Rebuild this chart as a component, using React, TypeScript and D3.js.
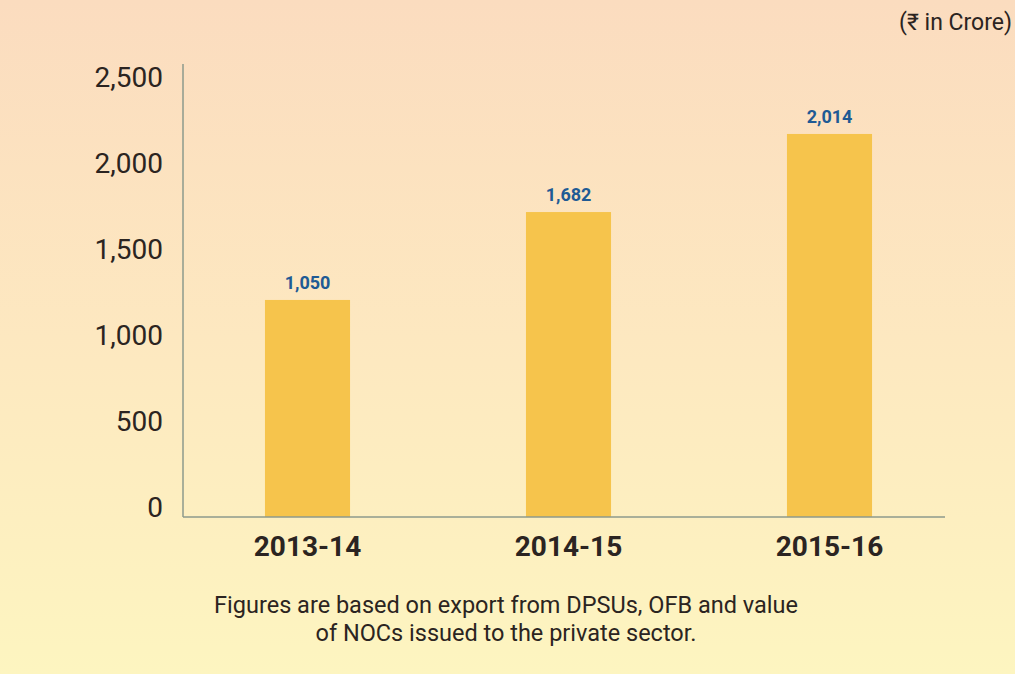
import { useEffect, useRef } from 'react';
import * as d3 from 'd3';

// Chart data
const categories = ['2013-14', '2014-15', '2015-16'];
// printed value labels above the bars
const valueLabels = ['1,050', '1,682', '2,014'];
// bar heights as drawn, read against the axis in the picture
const barHeights = [1262, 1773, 2227];
const yTicks = [0, 500, 1000, 1500, 2000, 2500];
const unitLabel = '(₹ in Crore)';
const footnote = [
  'Figures are based on export from DPSUs, OFB and value',
  'of NOCs issued to the private sector.',
];

export default function App() {
  const svgRef = useRef<SVGSVGElement>(null);

  useEffect(() => {
    if (!svgRef.current) return;
    const width = 1015;
    const height = 674;
    const font = 'Roboto, "Noto Sans", "DejaVu Sans", sans-serif';

    const svg = d3.select(svgRef.current);
    svg.selectAll('*').remove();
    svg.attr('width', width).attr('height', height);

    // background gradient
    const defs = svg.append('defs');
    const grad = defs
      .append('linearGradient')
      .attr('id', 'bg')
      .attr('x1', 0)
      .attr('y1', 0)
      .attr('x2', 0)
      .attr('y2', 1);
    grad.append('stop').attr('offset', '0%').attr('stop-color', '#fbdcbf');
    grad.append('stop').attr('offset', '50%').attr('stop-color', '#fde8c0');
    grad.append('stop').attr('offset', '100%').attr('stop-color', '#fdf5c0');
    svg.append('rect').attr('width', width).attr('height', height).attr('fill', 'url(#bg)');

    const x = d3
      .scaleBand()
      .domain(categories)
      .range([177, 960])
      .paddingInner(0.674)
      .paddingOuter(0.337);

    const y = d3.scaleLinear().domain([0, 2500]).range([517, 87]);

    const axisLeft = 183;
    const axisRight = 945;

    // Bars
    svg
      .append('g')
      .selectAll('rect')
      .data(categories)
      .enter()
      .append('rect')
      .attr('x', (d) => x(d) || 0)
      .attr('y', (_, i) => y(barHeights[i]))
      .attr('width', x.bandwidth())
      .attr('height', (_, i) => y(0) - y(barHeights[i]))
      .attr('fill', '#f6c44c');

    // value labels
    svg
      .append('g')
      .selectAll('text')
      .data(categories)
      .enter()
      .append('text')
      .attr('x', (d) => (x(d) || 0) + x.bandwidth() / 2)
      .attr('y', (_, i) => y(barHeights[i]) - 11)
      .attr('text-anchor', 'middle')
      .attr('font-family', font)
      .attr('font-weight', 'bold')
      .attr('font-size', '18px')
      .attr('fill', '#205a94')
      .text((_, i) => valueLabels[i]);

    // axis lines
    svg
      .append('line')
      .attr('x1', axisLeft)
      .attr('x2', axisLeft)
      .attr('y1', 64)
      .attr('y2', y(0))
      .attr('stroke', '#8c9a8c')
      .attr('stroke-width', 1.5);
    svg
      .append('line')
      .attr('x1', axisLeft)
      .attr('x2', axisRight)
      .attr('y1', y(0))
      .attr('y2', y(0))
      .attr('stroke', '#8c9a8c')
      .attr('stroke-width', 1.5);

    // Y tick labels
    svg
      .append('g')
      .selectAll('text')
      .data(yTicks)
      .enter()
      .append('text')
      .attr('x', 163)
      .attr('y', (d) => y(d))
      .attr('text-anchor', 'end')
      .attr('font-family', font)
      .attr('font-size', '28px')
      .attr('fill', '#2b2421')
      .text((d) => d3.format(',')(d));

    // X category labels
    svg
      .append('g')
      .selectAll('text')
      .data(categories)
      .enter()
      .append('text')
      .attr('x', (d) => (x(d) || 0) + x.bandwidth() / 2)
      .attr('y', 556)
      .attr('text-anchor', 'middle')
      .attr('font-family', font)
      .attr('font-weight', 'bold')
      .attr('font-size', '28px')
      .attr('fill', '#2b2421')
      .text((d) => d);

    // unit label
    svg
      .append('text')
      .attr('x', 1012)
      .attr('y', 30)
      .attr('text-anchor', 'end')
      .attr('font-family', font)
      .attr('font-size', '23px')
      .attr('fill', '#2b2421')
      .text(unitLabel);

    // footnote
    svg
      .append('g')
      .selectAll('text')
      .data(footnote)
      .enter()
      .append('text')
      .attr('x', 506)
      .attr('y', (_, i) => 613 + i * 28)
      .attr('text-anchor', 'middle')
      .attr('font-family', font)
      .attr('font-size', '23.5px')
      .attr('fill', '#2b2421')
      .text((d) => d);
  }, []);

  return (
    <div style={{ position: 'fixed', left: 0, top: 0 }}>
      <svg ref={svgRef} style={{ display: 'block' }} />
    </div>
  );
}
